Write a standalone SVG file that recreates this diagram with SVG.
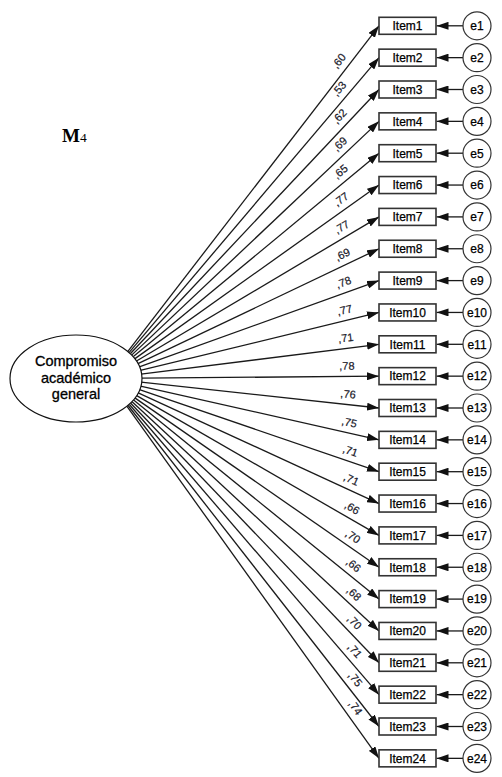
<svg xmlns="http://www.w3.org/2000/svg" width="502" height="777" viewBox="0 0 502 777">
<defs>
<marker id="arr" markerUnits="userSpaceOnUse" markerWidth="12" markerHeight="8" refX="12" refY="4" orient="auto"><path d="M0,0 L12,4 L0,8 z" fill="#111"/></marker>
<style>
.ln{stroke:#1a1a1a;stroke-width:1.3;fill:none;marker-end:url(#arr)}
.bx{fill:#fff;stroke:#333;stroke-width:1.6}
.ci{fill:#fff;stroke:#333;stroke-width:1.2}
.t{font-family:"Liberation Sans",Arial,sans-serif;font-size:12px;fill:#000;stroke:#000;stroke-width:0.25;text-anchor:middle}
.lb{font-family:"Liberation Sans",Arial,sans-serif;font-size:11px;fill:#1a1a2a;stroke:#1a1a2a;stroke-width:0.2;text-anchor:middle}
.big{font-family:"Liberation Sans",Arial,sans-serif;font-size:14.5px;fill:#000;stroke:#000;stroke-width:0.3;text-anchor:middle}
</style>
</defs>
<rect width="502" height="777" fill="#fff"/>
<text x="62" y="142" font-family="'Liberation Serif','Times New Roman',serif" fill="#000"><tspan font-size="19" font-weight="bold">M</tspan><tspan font-size="13.5">4</tspan></text>
<g id="connectors">
<line class="ln" x1="127.9" y1="351.3" x2="379" y2="25.8"/>
<line class="ln" x1="129.2" y1="352.3" x2="379" y2="57.65"/>
<line class="ln" x1="130.5" y1="353.5" x2="379" y2="89.5"/>
<line class="ln" x1="131.9" y1="354.9" x2="379" y2="121.35"/>
<line class="ln" x1="133.4" y1="356.6" x2="379" y2="153.2"/>
<line class="ln" x1="135.0" y1="358.6" x2="379" y2="185.05"/>
<line class="ln" x1="136.5" y1="361.0" x2="379" y2="216.9"/>
<line class="ln" x1="138.0" y1="363.7" x2="379" y2="248.75"/>
<line class="ln" x1="139.3" y1="366.9" x2="379" y2="280.6"/>
<line class="ln" x1="140.3" y1="370.4" x2="379" y2="312.45"/>
<line class="ln" x1="141.0" y1="374.2" x2="379" y2="344.3"/>
<line class="ln" x1="141.3" y1="378.2" x2="379" y2="376.15"/>
<line class="ln" x1="141.1" y1="382.2" x2="379" y2="408"/>
<line class="ln" x1="140.5" y1="386.1" x2="379" y2="439.85"/>
<line class="ln" x1="139.5" y1="389.6" x2="379" y2="471.7"/>
<line class="ln" x1="138.2" y1="392.8" x2="379" y2="503.55"/>
<line class="ln" x1="136.7" y1="395.6" x2="379" y2="535.4"/>
<line class="ln" x1="135.2" y1="398.1" x2="379" y2="567.25"/>
<line class="ln" x1="133.6" y1="400.1" x2="379" y2="599.1"/>
<line class="ln" x1="132.1" y1="401.8" x2="379" y2="630.95"/>
<line class="ln" x1="130.7" y1="403.3" x2="379" y2="662.8"/>
<line class="ln" x1="129.4" y1="404.5" x2="379" y2="694.65"/>
<line class="ln" x1="128.1" y1="405.5" x2="379" y2="726.5"/>
<line class="ln" x1="127.0" y1="406.4" x2="379" y2="758.35"/>
<line class="ln" x1="463" y1="25.8" x2="436.5" y2="25.8"/>
<line class="ln" x1="463" y1="57.65" x2="436.5" y2="57.65"/>
<line class="ln" x1="463" y1="89.5" x2="436.5" y2="89.5"/>
<line class="ln" x1="463" y1="121.35" x2="436.5" y2="121.35"/>
<line class="ln" x1="463" y1="153.2" x2="436.5" y2="153.2"/>
<line class="ln" x1="463" y1="185.05" x2="436.5" y2="185.05"/>
<line class="ln" x1="463" y1="216.9" x2="436.5" y2="216.9"/>
<line class="ln" x1="463" y1="248.75" x2="436.5" y2="248.75"/>
<line class="ln" x1="463" y1="280.6" x2="436.5" y2="280.6"/>
<line class="ln" x1="463" y1="312.45" x2="436.5" y2="312.45"/>
<line class="ln" x1="463" y1="344.3" x2="436.5" y2="344.3"/>
<line class="ln" x1="463" y1="376.15" x2="436.5" y2="376.15"/>
<line class="ln" x1="463" y1="408" x2="436.5" y2="408"/>
<line class="ln" x1="463" y1="439.85" x2="436.5" y2="439.85"/>
<line class="ln" x1="463" y1="471.7" x2="436.5" y2="471.7"/>
<line class="ln" x1="463" y1="503.55" x2="436.5" y2="503.55"/>
<line class="ln" x1="463" y1="535.4" x2="436.5" y2="535.4"/>
<line class="ln" x1="463" y1="567.25" x2="436.5" y2="567.25"/>
<line class="ln" x1="463" y1="599.1" x2="436.5" y2="599.1"/>
<line class="ln" x1="463" y1="630.95" x2="436.5" y2="630.95"/>
<line class="ln" x1="463" y1="662.8" x2="436.5" y2="662.8"/>
<line class="ln" x1="463" y1="694.65" x2="436.5" y2="694.65"/>
<line class="ln" x1="463" y1="726.5" x2="436.5" y2="726.5"/>
<line class="ln" x1="463" y1="758.35" x2="436.5" y2="758.35"/>
</g>
<g id="loadings">
<text class="lb" dy="0.35em" transform="translate(338.7,60.9) rotate(-52.36)">,60</text>
<text class="lb" dy="0.35em" transform="translate(339.0,88.6) rotate(-49.71)">,53</text>
<text class="lb" dy="0.35em" transform="translate(339.4,116.3) rotate(-46.74)">,62</text>
<text class="lb" dy="0.35em" transform="translate(339.8,144.0) rotate(-43.39)">,69</text>
<text class="lb" dy="0.35em" transform="translate(340.3,171.6) rotate(-39.63)">,65</text>
<text class="lb" dy="0.35em" transform="translate(340.9,199.2) rotate(-35.42)">,77</text>
<text class="lb" dy="0.35em" transform="translate(341.6,226.9) rotate(-30.71)">,77</text>
<text class="lb" dy="0.35em" transform="translate(342.5,254.5) rotate(-25.50)">,69</text>
<text class="lb" dy="0.35em" transform="translate(343.4,282.2) rotate(-19.80)">,78</text>
<text class="lb" dy="0.35em" transform="translate(344.5,310.0) rotate(-13.65)">,77</text>
<text class="lb" dy="0.35em" transform="translate(345.7,337.9) rotate(-7.17)">,71</text>
<text class="lb" dy="0.35em" transform="translate(346.9,365.9) rotate(-0.50)">,78</text>
<text class="lb" dy="0.35em" transform="translate(348.1,394.1) rotate(6.19)">,76</text>
<text class="lb" dy="0.35em" transform="translate(349.3,422.4) rotate(12.71)">,75</text>
<text class="lb" dy="0.35em" transform="translate(350.4,450.8) rotate(18.92)">,71</text>
<text class="lb" dy="0.35em" transform="translate(351.4,479.3) rotate(24.69)">,71</text>
<text class="lb" dy="0.35em" transform="translate(352.2,507.8) rotate(29.98)">,66</text>
<text class="lb" dy="0.35em" transform="translate(353.0,536.4) rotate(34.76)">,70</text>
<text class="lb" dy="0.35em" transform="translate(353.6,565.0) rotate(39.04)">,66</text>
<text class="lb" dy="0.35em" transform="translate(354.1,593.6) rotate(42.87)">,68</text>
<text class="lb" dy="0.35em" transform="translate(354.6,622.1) rotate(46.26)">,70</text>
<text class="lb" dy="0.35em" transform="translate(355.0,650.6) rotate(49.29)">,71</text>
<text class="lb" dy="0.35em" transform="translate(355.3,679.1) rotate(51.99)">,75</text>
<text class="lb" dy="0.35em" transform="translate(355.5,707.6) rotate(54.39)">,74</text>
</g>
<g id="compromiso">
<ellipse cx="76" cy="378.5" rx="66" ry="43.5" fill="#fff" stroke="#111" stroke-width="1.2"/>
<text class="big" x="76" y="366">Compromiso</text>
<text class="big" x="76" y="382.5">académico</text>
<text class="big" x="76" y="398.5">general</text>
</g>
<g id="item1"><rect class="bx" x="379" y="17.3" width="57" height="17"/><text class="t" x="407.5" y="30.1">Item1</text></g>
<g id="item2"><rect class="bx" x="379" y="49.15" width="57" height="17"/><text class="t" x="407.5" y="61.95">Item2</text></g>
<g id="item3"><rect class="bx" x="379" y="81" width="57" height="17"/><text class="t" x="407.5" y="93.8">Item3</text></g>
<g id="item4"><rect class="bx" x="379" y="112.85" width="57" height="17"/><text class="t" x="407.5" y="125.65">Item4</text></g>
<g id="item5"><rect class="bx" x="379" y="144.7" width="57" height="17"/><text class="t" x="407.5" y="157.5">Item5</text></g>
<g id="item6"><rect class="bx" x="379" y="176.55" width="57" height="17"/><text class="t" x="407.5" y="189.35">Item6</text></g>
<g id="item7"><rect class="bx" x="379" y="208.4" width="57" height="17"/><text class="t" x="407.5" y="221.2">Item7</text></g>
<g id="item8"><rect class="bx" x="379" y="240.25" width="57" height="17"/><text class="t" x="407.5" y="253.05">Item8</text></g>
<g id="item9"><rect class="bx" x="379" y="272.1" width="57" height="17"/><text class="t" x="407.5" y="284.9">Item9</text></g>
<g id="item10"><rect class="bx" x="379" y="303.95" width="57" height="17"/><text class="t" x="407.5" y="316.75">Item10</text></g>
<g id="item11"><rect class="bx" x="379" y="335.8" width="57" height="17"/><text class="t" x="407.5" y="348.6">Item11</text></g>
<g id="item12"><rect class="bx" x="379" y="367.65" width="57" height="17"/><text class="t" x="407.5" y="380.45">Item12</text></g>
<g id="item13"><rect class="bx" x="379" y="399.5" width="57" height="17"/><text class="t" x="407.5" y="412.3">Item13</text></g>
<g id="item14"><rect class="bx" x="379" y="431.35" width="57" height="17"/><text class="t" x="407.5" y="444.15">Item14</text></g>
<g id="item15"><rect class="bx" x="379" y="463.2" width="57" height="17"/><text class="t" x="407.5" y="476">Item15</text></g>
<g id="item16"><rect class="bx" x="379" y="495.05" width="57" height="17"/><text class="t" x="407.5" y="507.85">Item16</text></g>
<g id="item17"><rect class="bx" x="379" y="526.9" width="57" height="17"/><text class="t" x="407.5" y="539.7">Item17</text></g>
<g id="item18"><rect class="bx" x="379" y="558.75" width="57" height="17"/><text class="t" x="407.5" y="571.55">Item18</text></g>
<g id="item19"><rect class="bx" x="379" y="590.6" width="57" height="17"/><text class="t" x="407.5" y="603.4">Item19</text></g>
<g id="item20"><rect class="bx" x="379" y="622.45" width="57" height="17"/><text class="t" x="407.5" y="635.25">Item20</text></g>
<g id="item21"><rect class="bx" x="379" y="654.3" width="57" height="17"/><text class="t" x="407.5" y="667.1">Item21</text></g>
<g id="item22"><rect class="bx" x="379" y="686.15" width="57" height="17"/><text class="t" x="407.5" y="698.95">Item22</text></g>
<g id="item23"><rect class="bx" x="379" y="718" width="57" height="17"/><text class="t" x="407.5" y="730.8">Item23</text></g>
<g id="item24"><rect class="bx" x="379" y="749.85" width="57" height="17"/><text class="t" x="407.5" y="762.65">Item24</text></g>
<g id="e1"><circle class="ci" cx="477" cy="25.8" r="14"/><text class="t" x="477" y="30.1">e1</text></g>
<g id="e2"><circle class="ci" cx="477" cy="57.65" r="14"/><text class="t" x="477" y="61.95">e2</text></g>
<g id="e3"><circle class="ci" cx="477" cy="89.5" r="14"/><text class="t" x="477" y="93.8">e3</text></g>
<g id="e4"><circle class="ci" cx="477" cy="121.35" r="14"/><text class="t" x="477" y="125.65">e4</text></g>
<g id="e5"><circle class="ci" cx="477" cy="153.2" r="14"/><text class="t" x="477" y="157.5">e5</text></g>
<g id="e6"><circle class="ci" cx="477" cy="185.05" r="14"/><text class="t" x="477" y="189.35">e6</text></g>
<g id="e7"><circle class="ci" cx="477" cy="216.9" r="14"/><text class="t" x="477" y="221.2">e7</text></g>
<g id="e8"><circle class="ci" cx="477" cy="248.75" r="14"/><text class="t" x="477" y="253.05">e8</text></g>
<g id="e9"><circle class="ci" cx="477" cy="280.6" r="14"/><text class="t" x="477" y="284.9">e9</text></g>
<g id="e10"><circle class="ci" cx="477" cy="312.45" r="14"/><text class="t" x="477" y="316.75">e10</text></g>
<g id="e11"><circle class="ci" cx="477" cy="344.3" r="14"/><text class="t" x="477" y="348.6">e11</text></g>
<g id="e12"><circle class="ci" cx="477" cy="376.15" r="14"/><text class="t" x="477" y="380.45">e12</text></g>
<g id="e13"><circle class="ci" cx="477" cy="408" r="14"/><text class="t" x="477" y="412.3">e13</text></g>
<g id="e14"><circle class="ci" cx="477" cy="439.85" r="14"/><text class="t" x="477" y="444.15">e14</text></g>
<g id="e15"><circle class="ci" cx="477" cy="471.7" r="14"/><text class="t" x="477" y="476">e15</text></g>
<g id="e16"><circle class="ci" cx="477" cy="503.55" r="14"/><text class="t" x="477" y="507.85">e16</text></g>
<g id="e17"><circle class="ci" cx="477" cy="535.4" r="14"/><text class="t" x="477" y="539.7">e17</text></g>
<g id="e18"><circle class="ci" cx="477" cy="567.25" r="14"/><text class="t" x="477" y="571.55">e18</text></g>
<g id="e19"><circle class="ci" cx="477" cy="599.1" r="14"/><text class="t" x="477" y="603.4">e19</text></g>
<g id="e20"><circle class="ci" cx="477" cy="630.95" r="14"/><text class="t" x="477" y="635.25">e20</text></g>
<g id="e21"><circle class="ci" cx="477" cy="662.8" r="14"/><text class="t" x="477" y="667.1">e21</text></g>
<g id="e22"><circle class="ci" cx="477" cy="694.65" r="14"/><text class="t" x="477" y="698.95">e22</text></g>
<g id="e23"><circle class="ci" cx="477" cy="726.5" r="14"/><text class="t" x="477" y="730.8">e23</text></g>
<g id="e24"><circle class="ci" cx="477" cy="758.35" r="14"/><text class="t" x="477" y="762.65">e24</text></g>
</svg>
